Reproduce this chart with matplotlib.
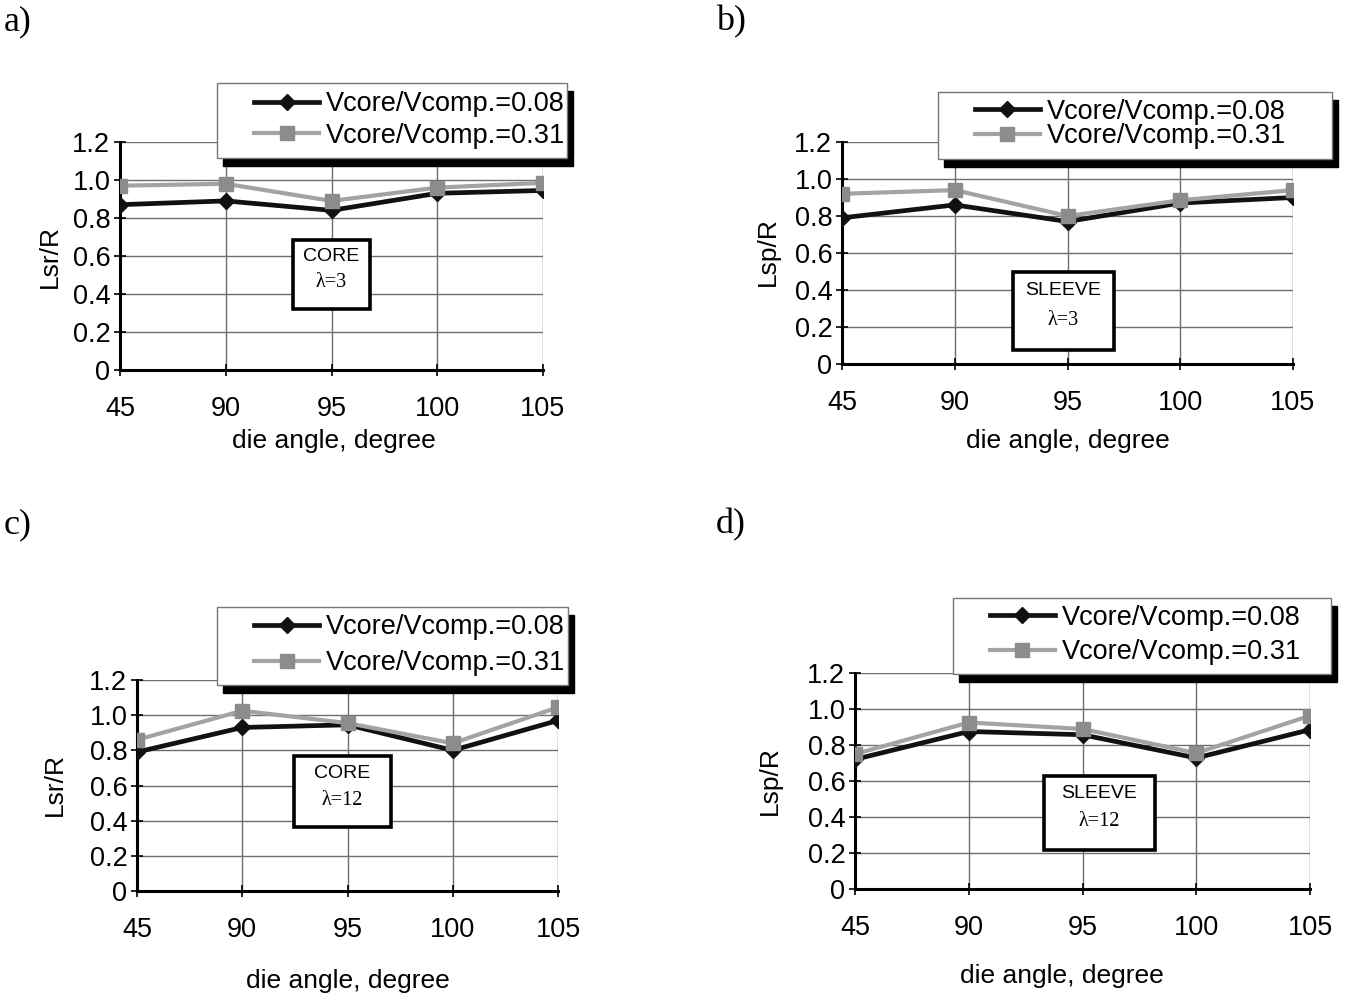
import matplotlib
matplotlib.use('Agg')
import matplotlib.pyplot as plt
from matplotlib.patches import Rectangle

# ---------------- data ----------------
angles = ['45', '90', '95', '100', '105']
series_labels = ['Vcore/Vcomp.=0.08', 'Vcore/Vcomp.=0.31']

a_008 = [0.87, 0.89, 0.84, 0.93, 0.945]
a_031 = [0.97, 0.98, 0.89, 0.96, 0.985]
b_008 = [0.79, 0.86, 0.77, 0.87, 0.90]
b_031 = [0.92, 0.94, 0.80, 0.885, 0.94]
c_008 = [0.79, 0.93, 0.945, 0.80, 0.97]
c_031 = [0.86, 1.025, 0.955, 0.84, 1.045]
d_008 = [0.72, 0.875, 0.857, 0.728, 0.885]
d_031 = [0.75, 0.925, 0.889, 0.755, 0.963]

yticks = [0, 0.2, 0.4, 0.6, 0.8, 1.0, 1.2]
ytick_labels = ['0', '0.2', '0.4', '0.6', '0.8', '1.0', '1.2']
panel_letters = ['a)', 'b)', 'c)', 'd)']
ylabels = ['Lsr/R', 'Lsp/R', 'Lsr/R', 'Lsp/R']
xlabel = 'die angle, degree'
box_titles = ['CORE', 'SLEEVE', 'CORE', 'SLEEVE']
box_lambdas = ['\u03bb=3', '\u03bb=3', '\u03bb=12', '\u03bb=12']

# ---------------- layout (pixels) ----------------
W, H = 1351, 998
SANS = 'Liberation Sans'
SERIF = 'Liberation Serif'

fig = plt.figure(figsize=(W / 100, H / 100), dpi=100)
fig.patch.set_facecolor('white')


def fx(x):
    return x / W


def fy(y):
    return 1 - y / H


panels = [
    dict(ax=(120, 142, 543, 370), data=(a_008, a_031), letter=(4, 22),
         xl=(334, 441), yl=(50, 256), leg=(217, 83, 567, 158), legc=120,
         lsp=0.22, box=(293, 240, 370, 309)),
    dict(ax=(842, 142, 1293, 364), data=(b_008, b_031), letter=(716, 22),
         xl=(1068, 441), yl=(768, 252), leg=(938, 92, 1332, 159), legc=124,
         lsp=-0.04, box=(1013, 272, 1114, 350)),
    dict(ax=(137, 680, 558, 891), data=(c_008, c_031), letter=(4, 525),
         xl=(348, 981), yl=(55, 785), leg=(217, 607, 568, 685), legc=645,
         lsp=0.37, box=(294, 756, 391, 827)),
    dict(ax=(855, 673, 1310, 889), data=(d_008, d_031), letter=(716, 525),
         xl=(1062, 976), yl=(770, 781), leg=(953, 598, 1331, 674), legc=635,
         lsp=0.30, box=(1044, 776, 1155, 850)),
]

BLACK = '#111111'
GRAY_LINE = '#a3a3a3'
GRAY_MARK = '#8c8c8c'

for i, p in enumerate(panels):
    l, t, r, b = p['ax']
    ax = fig.add_axes([fx(l), fy(b), (r - l) / W, (b - t) / H])
    x = list(range(len(angles)))
    s08, s31 = p['data']
    ax.plot(x, s08, color=BLACK, lw=3.4, marker='D', ms=8.5,
            mfc=BLACK, mec=BLACK, label=series_labels[0], zorder=3)
    ax.plot(x, s31, color=GRAY_LINE, lw=3.0, marker='s', ms=10.5,
            mfc=GRAY_MARK, mec=GRAY_MARK, label=series_labels[1], zorder=4)

    ax.set_xlim(0, len(angles) - 1)
    ax.set_ylim(0, 1.2)
    ax.set_xticks(x)
    ax.set_xticklabels(angles)
    ax.set_yticks(yticks)
    ax.set_yticklabels(ytick_labels)
    ax.grid(True, color='#6e6e6e', lw=1.0)
    ax.set_axisbelow(True)
    for sp in ['top', 'right']:
        ax.spines[sp].set_visible(False)
    for sp in ['left', 'bottom']:
        ax.spines[sp].set_linewidth(2.2)
        ax.spines[sp].set_color('black')
    ax.tick_params(axis='x', direction='inout', length=8, width=1.2,
                   pad=15, labelsize=19.5)
    ax.tick_params(axis='y', direction='inout', length=8, width=1.2,
                   pad=3, labelsize=19.5)
    for lab in ax.get_xticklabels() + ax.get_yticklabels():
        lab.set_fontfamily(SANS)

    # axis labels
    ax.set_xlabel(xlabel, fontsize=19, family=SANS, va='center', ha='center')
    ax.xaxis.set_label_coords((p['xl'][0] - l) / (r - l), (b - p['xl'][1]) / (b - t))
    ax.set_ylabel(ylabels[i], fontsize=19, family=SANS, va='center', ha='center')
    ax.yaxis.set_label_coords((p['yl'][0] - l) / (r - l), (b - p['yl'][1]) / (b - t))

    # panel letter
    fig.text(fx(p['letter'][0]), fy(p['letter'][1]), panel_letters[i],
             family=SERIF, fontsize=26, ha='left', va='center')

    # legend box with shadow (drawn inside the axes, unclipped, below the legend)
    L, T, R, B = p['leg']
    ax.add_patch(Rectangle((fx(L + 6), fy(B + 8)), (R - L) / W, (B - T) / H,
                           transform=fig.transFigure, facecolor='black',
                           edgecolor='black', zorder=5, clip_on=False))
    ax.add_patch(Rectangle((fx(L), fy(B)), (R - L) / W, (B - T) / H,
                           transform=fig.transFigure, facecolor='white',
                           edgecolor='#777777', lw=1.0, zorder=6, clip_on=False))
    leg = ax.legend(loc='center left',
                    bbox_to_anchor=(fx(L + 37), fy(p['legc'])),
                    bbox_transform=fig.transFigure, frameon=False,
                    prop=dict(family=SANS, size=19.5), handlelength=2.4,
                    handletextpad=0.25, labelspacing=p['lsp'], borderpad=0,
                    borderaxespad=0, numpoints=1)
    leg.set_zorder(7)

    # annotation box
    L, T, R, B = p['box']
    ax.add_patch(Rectangle((fx(L), fy(B)), (R - L) / W, (B - T) / H,
                           transform=fig.transFigure, facecolor='white',
                           edgecolor='black', lw=2.6, zorder=5, clip_on=False))
    cx = (L + R) / 2
    ax.text(fx(cx), fy(T + 0.24 * (B - T)), box_titles[i], family=SANS,
            fontsize=14, ha='center', va='center', zorder=7,
            transform=fig.transFigure)
    ax.text(fx(cx), fy(T + 0.62 * (B - T)), box_lambdas[i], family=SERIF,
            fontsize=14.5, ha='center', va='center', zorder=7,
            transform=fig.transFigure)

fig.savefig('out.png', dpi=100)
